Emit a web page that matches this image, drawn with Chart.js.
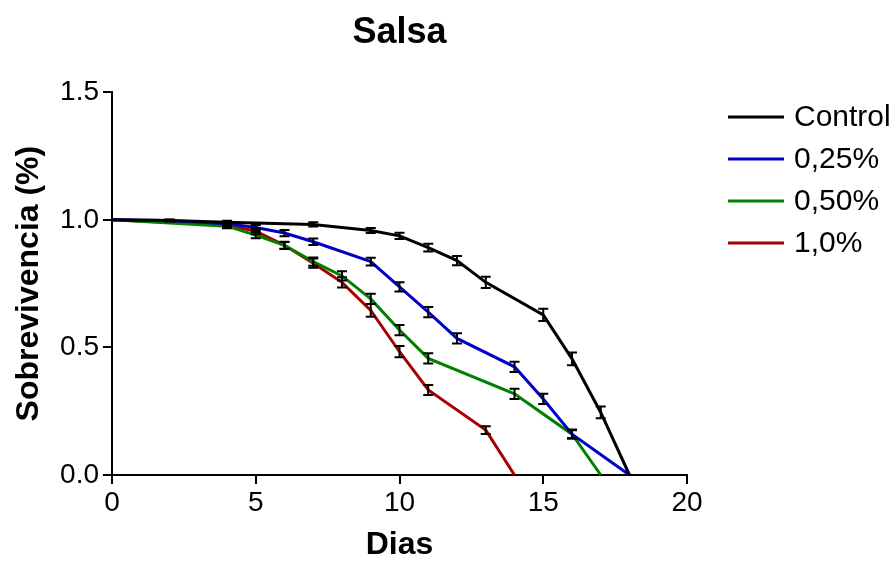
<!DOCTYPE html>
<html>
<head>
<meta charset="utf-8">
<script src="https://cdn.jsdelivr.net/npm/chart.js@4/dist/chart.umd.min.js"></script>
<style>
  html, body { margin: 0; padding: 0; background: #fff; }
  canvas { display: block; }
</style>
</head>
<body>
<canvas id="chart" width="896" height="564"></canvas>
<script>
// values (survival fraction vs day)
const seriesNames = ['Control', '0,25%', '0,50%', '1,0%'];
const seriesColors = ['#000000', '#0000c8', '#008000', '#a80000'];

const controlDays = [0, 2, 4, 7, 9, 10, 11, 12, 13, 15, 16, 17, 18];
const controlVals = [1.0, 0.997, 0.99, 0.982, 0.958, 0.937, 0.891, 0.84, 0.755, 0.627, 0.455, 0.245, 0];
const controlErr = [0, 0.004, 0.006, 0.008, 0.01, 0.012, 0.015, 0.018, 0.022, 0.024, 0.025, 0.023, 0];

const p025Days = [0, 2, 4, 5, 6, 7, 9, 10, 11, 12, 14, 15, 16, 18];
const p025Vals = [1.0, 0.997, 0.985, 0.97, 0.948, 0.914, 0.836, 0.737, 0.638, 0.535, 0.424, 0.298, 0.16, 0];
const p025Err = [0, 0.003, 0.006, 0.01, 0.012, 0.013, 0.015, 0.018, 0.02, 0.02, 0.02, 0.02, 0.015, 0];

const p050Days = [0, 4, 5, 6, 7, 8, 9, 10, 11, 14, 16, 17];
const p050Vals = [1.0, 0.975, 0.94, 0.9, 0.836, 0.78, 0.69, 0.568, 0.457, 0.318, 0.16, 0];
const p050Err = [0, 0.008, 0.012, 0.013, 0.016, 0.018, 0.02, 0.02, 0.02, 0.02, 0.018, 0];

const p100Days = [0, 4, 5, 6, 7, 8, 9, 10, 11, 13, 14];
const p100Vals = [1.0, 0.98, 0.955, 0.9, 0.83, 0.755, 0.645, 0.483, 0.333, 0.176, 0];
const p100Err = [0, 0.006, 0.012, 0.014, 0.018, 0.02, 0.025, 0.022, 0.02, 0.015, 0];

const xTicks = [0, 5, 10, 15, 20];
const yTicks = [0, 0.5, 1.0, 1.5];

const FONT = 'Arial, "Liberation Sans", sans-serif';

function toPoints(days, vals) {
	return days.map((d, i) => ({ x: d, y: vals[i] }));
}

const allDays = [controlDays, p025Days, p050Days, p100Days];
const allVals = [controlVals, p025Vals, p050Vals, p100Vals];
const allErr = [controlErr, p025Err, p050Err, p100Err];

const datasets = seriesNames.map((name, k) => ({
	label: name,
	data: toPoints(allDays[k], allVals[k]),
	err: allErr[k],
	borderColor: seriesColors[k],
	backgroundColor: seriesColors[k],
	borderWidth: 3,
	pointRadius: 0,
	tension: 0,
	clip: false,
}));

// error bars drawn from the scales
const errorBars = {
	id: 'errorBars',
	afterDatasetsDraw(chart) {
		const { ctx, scales } = chart;
		ctx.save();
		ctx.strokeStyle = '#000';
		ctx.lineWidth = 2;
		chart.data.datasets.forEach((ds) => {
			ds.data.forEach((p, i) => {
				const e = ds.err[i];
				if (!e) return;
				const x = scales.x.getPixelForValue(p.x);
				const y1 = scales.y.getPixelForValue(p.y - e);
				const y2 = scales.y.getPixelForValue(p.y + e);
				ctx.beginPath();
				ctx.moveTo(x, y1);
				ctx.lineTo(x, y2);
				ctx.moveTo(x - 5, y1);
				ctx.lineTo(x + 5, y1);
				ctx.moveTo(x - 5, y2);
				ctx.lineTo(x + 5, y2);
				ctx.stroke();
			});
		});
		ctx.restore();
	},
};

// legend on the right, line samples + labels
const sideLegend = {
	id: 'sideLegend',
	afterDraw(chart) {
		const { ctx } = chart;
		ctx.save();
		ctx.font = '30px ' + FONT;
		ctx.textBaseline = 'middle';
		ctx.fillStyle = '#000';
		chart.data.datasets.forEach((ds, i) => {
			const y = 117 + i * 42;
			ctx.strokeStyle = ds.borderColor;
			ctx.lineWidth = 3;
			ctx.beginPath();
			ctx.moveTo(728, y);
			ctx.lineTo(784, y);
			ctx.stroke();
			ctx.fillText(ds.label, 794, y + 1);
		});
		ctx.restore();
	},
};

new Chart(document.getElementById('chart'), {
	type: 'line',
	data: { datasets },
	plugins: [errorBars, sideLegend],
	options: {
		responsive: false,
		animation: false,
		devicePixelRatio: 1,
		layout: { padding: { left: 0, right: 209, top: 0, bottom: 0 } },
		plugins: {
			legend: { display: false },
			tooltip: { enabled: false },
			title: {
				display: true,
				text: 'Salsa',
				fullSize: false,
				color: '#000',
				font: { family: FONT, size: 36, weight: 'bold' },
				padding: { top: 11, bottom: 38 },
			},
		},
		scales: {
			x: {
				type: 'linear',
				min: 0,
				max: 20,
				afterBuildTicks: (s) => { s.ticks = xTicks.map((v) => ({ value: v })); },
				ticks: {
					color: '#000',
					font: { family: FONT, size: 28 },
					padding: 2,
					maxRotation: 0,
				},
				grid: { drawOnChartArea: false, color: '#000', lineWidth: 2, tickLength: 9 },
				border: { color: '#000', width: 2 },
				title: {
					display: true,
					text: 'Dias',
					color: '#000',
					font: { family: FONT, size: 32, weight: 'bold' },
					padding: { top: 4, bottom: 0 },
				},
				afterFit: (s) => { s.height = 89; },
			},
			y: {
				type: 'linear',
				min: 0,
				max: 1.5,
				afterBuildTicks: (s) => { s.ticks = yTicks.map((v) => ({ value: v })); },
				ticks: {
					color: '#000',
					font: { family: FONT, size: 28 },
					padding: 4,
					callback: (v) => Number(v).toFixed(1),
				},
				grid: { drawOnChartArea: false, color: '#000', lineWidth: 2, tickLength: 9 },
				border: { color: '#000', width: 2 },
				title: {
					display: true,
					text: 'Sobrevivencia (%)',
					color: '#000',
					font: { family: FONT, size: 32, weight: 'bold' },
					padding: { top: 10, bottom: 0 },
				},
				afterFit: (s) => { s.width = 112; },
			},
		},
	},
});
</script>
</body>
</html>
